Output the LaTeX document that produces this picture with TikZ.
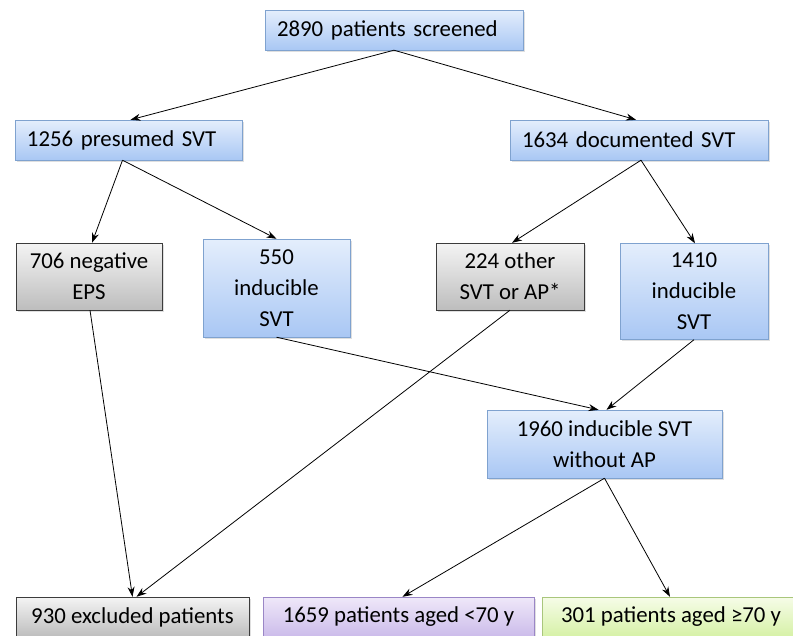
\documentclass[tikz,border=0pt]{standalone}
\usepackage{fontspec}
\setmainfont{Carlito}
\usetikzlibrary{arrows.meta,shadows}
\definecolor{bluetop}{HTML}{E4EEFC}
\definecolor{bluebot}{HTML}{A9C7F4}
\definecolor{blueline}{HTML}{7FA2CF}
\definecolor{graytop}{HTML}{F4F4F4}
\definecolor{graybot}{HTML}{BDBDBD}
\definecolor{grayline}{HTML}{3C3C3C}
\definecolor{violtop}{HTML}{EFE8F9}
\definecolor{violbot}{HTML}{CBBBEA}
\definecolor{violline}{HTML}{9A86C6}
\definecolor{vertop}{HTML}{F6FCE8}
\definecolor{verbot}{HTML}{D6F1A6}
\definecolor{verline}{HTML}{A9C67C}
\begin{document}
\begin{tikzpicture}[x=1pt,y=-1pt,
  box/.style={rectangle,inner sep=0pt,font=\fontsize{22.8}{31}\selectfont,
    drop shadow={opacity=0.25,shadow xshift=1.5pt,shadow yshift=-1.5pt}},
  bluebox/.style={box,draw=blueline,top color=bluetop,bottom color=bluebot},
  graybox/.style={box,draw=grayline,top color=graytop,bottom color=graybot},
  violbox/.style={box,draw=violline,top color=violtop,bottom color=violbot},
  verbox/.style={box,draw=verline,top color=vertop,bottom color=verbot},
  fleche/.style={-{Stealth[length=10pt,width=7pt]},line width=0.8pt}]
\useasboundingbox (0,0) rectangle (793,635);
% niveau 1 et 2
\node [bluebox,minimum width=258pt,minimum height=40pt,text width=234pt,inner xsep=12pt,align=left] (screen) at (394,30) {2890 patients screened};
\node [bluebox,minimum width=227pt,minimum height=40pt,text width=203pt,inner xsep=12pt,align=left] (presumed) at (128.5,140) {1256 presumed\ SVT};
\node [bluebox,minimum width=258pt,minimum height=40pt,text width=234pt,inner xsep=12pt,align=left] (documented) at (639,140) {1634 documented SVT};
% niveau 3
\node [graybox,minimum width=146pt,minimum height=67pt,align=center] (negative) at (89,276.5) {706 negative\\EPS};
\node [bluebox,minimum width=147pt,minimum height=98pt,align=center] (induc550) at (276.5,288) {550\\inducible\\SVT};
\node [graybox,minimum width=148pt,minimum height=67pt,align=center] (other) at (510,276.5) {224 other\\SVT or AP*};
\node [bluebox,minimum width=148pt,minimum height=96pt,align=center] (induc1410) at (694,291.5) {1410\\inducible\\SVT};
% niveau 4
\node [bluebox,minimum width=235pt,minimum height=68pt,align=center] (noap) at (604.5,444) {1960 inducible SVT\\without AP};
% niveau 5
\node [graybox,minimum width=233pt,minimum height=40pt] (excluded) at (132.5,617) {930 excluded patients};
\node [violbox,minimum width=271pt,minimum height=40pt] (young) at (398.5,617) {1659 patients aged <70 y};
\node [verbox,minimum width=258pt,minimum height=40pt] (old) at (671,617) {301 patients aged ≥70 y};
% fleches
\draw [fleche] (screen.south) -- ([xshift=2pt]presumed.north);
\draw [fleche] (screen.south) -- ([xshift=-3pt]documented.north);
\draw [fleche] ([xshift=-6pt]presumed.south) -- ([xshift=3pt]negative.north);
\draw [fleche] ([xshift=-6pt]presumed.south) -- (induc550.north);
\draw [fleche] ([xshift=2pt]documented.south) -- ([xshift=2pt]other.north);
\draw [fleche] ([xshift=2pt]documented.south) -- ([xshift=1pt]induc1410.north);
\draw [fleche] ([xshift=1pt]negative.south) -- ([xshift=0pt]excluded.north);
\draw [fleche] (other.south) -- ([xshift=4pt]excluded.north);
\draw [fleche] (induc550.south) -- ([xshift=-6pt]noap.north);
\draw [fleche] (induc1410.south) -- ([xshift=2pt]noap.north);
\draw [fleche] (noap.south) -- ([xshift=4pt]young.north);
\draw [fleche] (noap.south) -- ([xshift=-1pt]old.north);
\end{tikzpicture}
\end{document}
